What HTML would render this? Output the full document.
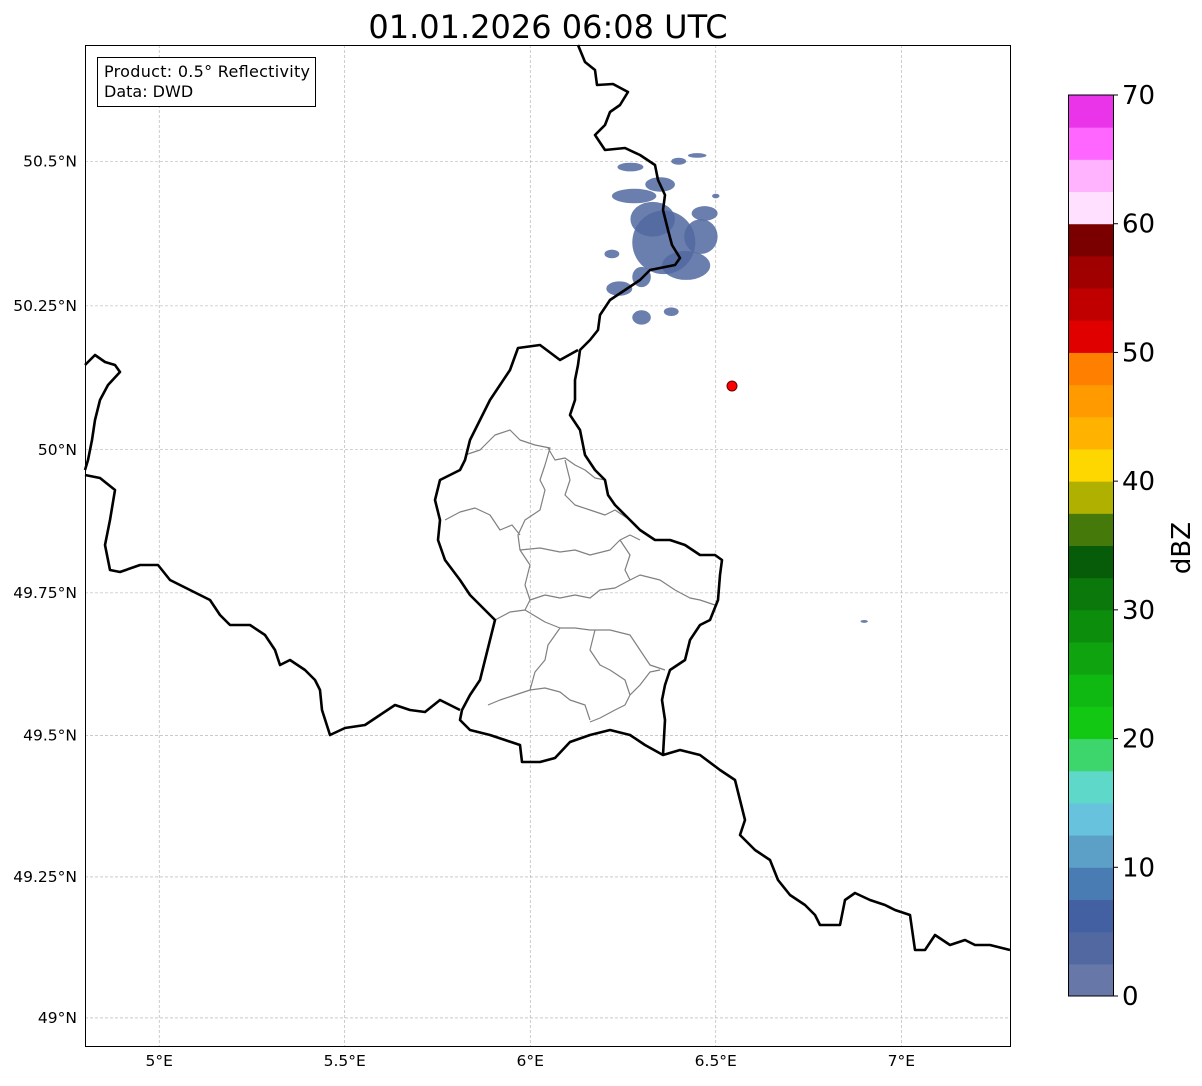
<!DOCTYPE html>
<html><head><meta charset="utf-8"><style>
body{margin:0;background:#fff;width:1202px;height:1081px;overflow:hidden;font-family:"Liberation Sans","DejaVu Sans",sans-serif}
svg text{font-family:"DejaVu Sans","Liberation Sans",sans-serif}
</style></head><body>
<svg id="s" width="1202" height="1081">
<text x="548" y="38" font-size="32" text-anchor="middle">01.01.2026 06:08 UTC</text>
<g id="grid"></g>
<g id="echo"></g>
<g fill="none" stroke-linejoin="round">
<path stroke="#808080" stroke-width="1.2" d="M465,455 L480,450 495,435 510,430 520,440 535,445 550,448 545,465 540,480 545,490 540,510 525,520 518,535 520,550 540,548 560,552 575,550 590,555 610,550 620,540 630,535 640,540 M548,448 L555,460 565,458 575,465 585,470 595,478 605,480 M565,460 L570,480 565,495 575,505 590,510 605,515 615,510 630,520 M445,520 L460,512 475,508 490,515 500,530 512,525 520,535 M520,550 L530,565 525,585 530,600 525,610 510,612 495,620 M530,600 L545,595 560,598 575,595 590,598 600,590 615,588 630,580 640,575 660,580 675,590 690,598 700,600 715,605 M620,540 L630,555 625,570 630,580 M525,610 L545,622 560,628 575,628 590,630 610,630 630,635 640,650 650,665 665,670 M560,628 L548,645 545,660 535,672 530,690 M595,630 L590,650 600,665 610,670 625,680 630,695 625,705 615,710 600,718 590,722 M530,690 L545,688 560,692 570,700 585,705 590,720 M488,705 L500,700 515,695 530,690 M630,695 L640,685 650,672 660,670"/>
<path stroke="#000" stroke-width="2.6" d="M578,350 L560,360 540,345 518,348 510,370 500,385 490,400 480,420 470,440 465,460 460,470 440,480 435,500 440,520 438,540 445,560 460,580 470,595 480,605 495,620 490,640 485,660 480,680 470,695 462,710 460,720 470,730 490,735 505,740 520,745 522,762 540,762 555,758 570,742 590,735 610,730 630,735 645,745 663,755"/>
<path stroke="#000" stroke-width="2.6" d="M578,45 L585,62 595,70 597,85 613,84 628,92 620,105 610,112 605,125 595,135 605,150 625,148 640,155 655,165 658,180 665,195 663,210 668,230 672,245 680,258 675,265 650,270 640,280 625,290 610,300 600,315 598,330 590,340 580,350 578,365 575,380 575,400 570,415 580,430 585,455 595,470 605,480 608,495 615,505 630,520 640,530 655,540 670,540 685,545 700,555 715,555 722,560 720,575 718,600 710,620 700,625 690,640 685,660 670,670 665,685 662,700 665,720 663,755 680,750 700,755 720,770 735,780 740,800 745,820 740,835 755,850 770,860 778,880 790,895 805,905 815,915 820,925 840,925 845,900 855,893 870,900 885,905 895,910 910,915 915,950 925,950 935,935 950,945 965,940 975,945 990,945 1010,950"/>
<path stroke="#000" stroke-width="2.6" d="M85,475 L100,478 115,490 110,520 105,545 110,570 120,572 140,565 158,565 170,580 190,590 210,600 220,615 230,625 250,625 265,635 275,650 280,665 290,660 305,670 315,680 320,690 322,710 330,735 345,728 365,725 380,715 395,705 410,710 425,712 440,700 460,710"/>
<path stroke="#000" stroke-width="2.6" d="M85,365 L95,355 105,362 115,365 120,372 108,385 100,400 95,420 92,440 88,460 85,470"/>
</g>
<circle cx="732" cy="386" r="5" fill="#f00" stroke="#600"/>
<rect x="85.5" y="45.5" width="925" height="1001" fill="none" stroke="#000"/>
<g id="ticks" font-size="15.5"></g>
<g>
<rect x="97.5" y="57.5" width="218" height="49" fill="#fff" stroke="#000"/>
<text x="104" y="77" font-size="16" textLength="206">Product: 0.5° Reflectivity</text>
<text x="104" y="97" font-size="16">Data: DWD</text>
</g>
<g id="cbar"></g>
<text transform="translate(1190,548) rotate(-90)" font-size="26" text-anchor="middle">dBZ</text>
</svg>
<script>
const NS='http://www.w3.org/2000/svg';
const lonTicks=[5,5.5,6,6.5,7];
const lonLabels=['5°E','5.5°E','6°E','6.5°E','7°E'];
const latTicks=[49,49.25,49.5,49.75,50,50.25,50.5];
const latLabels=['49°N','49.25°N','49.5°N','49.75°N','50°N','50.25°N','50.5°N'];
const cbarTicks=[0,10,20,30,40,50,60,70];
const cbarColors=['#6677a8','#5168a0','#4260a2','#4a7cb4','#5ca0c8','#66c2dd','#5ed8c8','#3dd66c','#12c812','#10b812','#0fa40f','#0c8e0c','#0a780a','#065c08','#457a0a','#b0b000','#ffd700','#ffb300','#ff9a00','#ff7f00','#e00000','#c00000','#a00000','#7a0000','#ffe0ff','#ffb3ff','#ff66ff','#e934e9'];
// radar echo cells: [lon, lat, width deg, height deg]
const echoCells=[[6.36,50.36,0.17,0.11],[6.33,50.4,0.12,0.06],[6.42,50.32,0.13,0.05],[6.46,50.37,0.09,0.06],[6.28,50.44,0.12,0.025],[6.35,50.46,0.08,0.025],[6.47,50.41,0.07,0.025],[6.3,50.3,0.05,0.035],[6.24,50.28,0.07,0.025],[6.3,50.23,0.05,0.025],[6.38,50.24,0.04,0.015],[6.22,50.34,0.04,0.015],[6.45,50.51,0.05,0.008],[6.5,50.44,0.02,0.008],[6.9,49.7,0.02,0.005],[6.27,50.49,0.07,0.015],[6.4,50.5,0.04,0.012]];
const lon0=4.8,lon1=7.293,X0=85,X1=1010;
const latTop=50.7,latBot=48.95,Y0=45,Y1=1046;
const merc=l=>Math.log(Math.tan(Math.PI/4+l*Math.PI/360));
const xS=l=>X0+(l-lon0)/(lon1-lon0)*(X1-X0);
const yS=l=>Y0+(merc(latTop)-merc(l))/(merc(latTop)-merc(latBot))*(Y1-Y0);
const grid=document.getElementById('grid'),ticks=document.getElementById('ticks');
function mk(t,a,p){const e=document.createElementNS(NS,t);for(const k in a)e.setAttribute(k,a[k]);p.appendChild(e);return e;}
lonTicks.forEach((v,i)=>{const x=xS(v);
 const g=mk('line',{x1:x,x2:x,y1:Y0,y2:Y1,stroke:'#aaa','stroke-width':0.6,'stroke-dasharray':'3,2'},grid);
 
 
 const t=mk('text',{x:x,y:1066,'text-anchor':'middle'},ticks);t.textContent=lonLabels[i];
 
 });
latTicks.forEach((v,i)=>{const y=yS(v);
 const g=mk('line',{x1:X0,x2:X1,y1:y,y2:y,stroke:'#aaa','stroke-width':0.6,'stroke-dasharray':'3,2'},grid);
 
 
 const t=mk('text',{x:77,y:y+5,'text-anchor':'end'},ticks);t.textContent=latLabels[i];
 
 });
const echo=document.getElementById('echo');
echoCells.forEach(c=>{const x=xS(c[0]),y=yS(c[1]),w=xS(c[0]+c[2]/2)-xS(c[0]-c[2]/2),h=yS(c[1]-c[3]/2)-yS(c[1]+c[3]/2);
 const e=mk('ellipse',{cx:x,cy:y,rx:w/2,ry:h/2,fill:'#5068a0',opacity:0.85},echo);
 
 });
const cb=document.getElementById('cbar');const cT=95,cB=996,cx=1068,cw=45,vmax=70;
const cy=v=>cB-v/vmax*(cB-cT);
cbarColors.forEach((col,i)=>{const v0=i*2.5,v1=Math.min(vmax,v0+2.5);if(v0>=vmax)return;
 const r=mk('rect',{x:cx,y:cy(v1),width:cw,height:cy(v0)-cy(v1)+0.5,fill:col},cb);
 
 });
mk('rect',{x:cx+0.5,y:cT,width:cw,height:cB-cT,fill:'none',stroke:'#000'},cb);
cbarTicks.forEach(v=>{const y=cy(v);mk('line',{x1:cx+cw,x2:cx+cw+5,y1:y,y2:y,stroke:'#000'},cb);
 const t=mk('text',{x:cx+cw+9,y:y+9,'font-size':26},cb);t.textContent=v;
 
 });
</script>
</body></html>
